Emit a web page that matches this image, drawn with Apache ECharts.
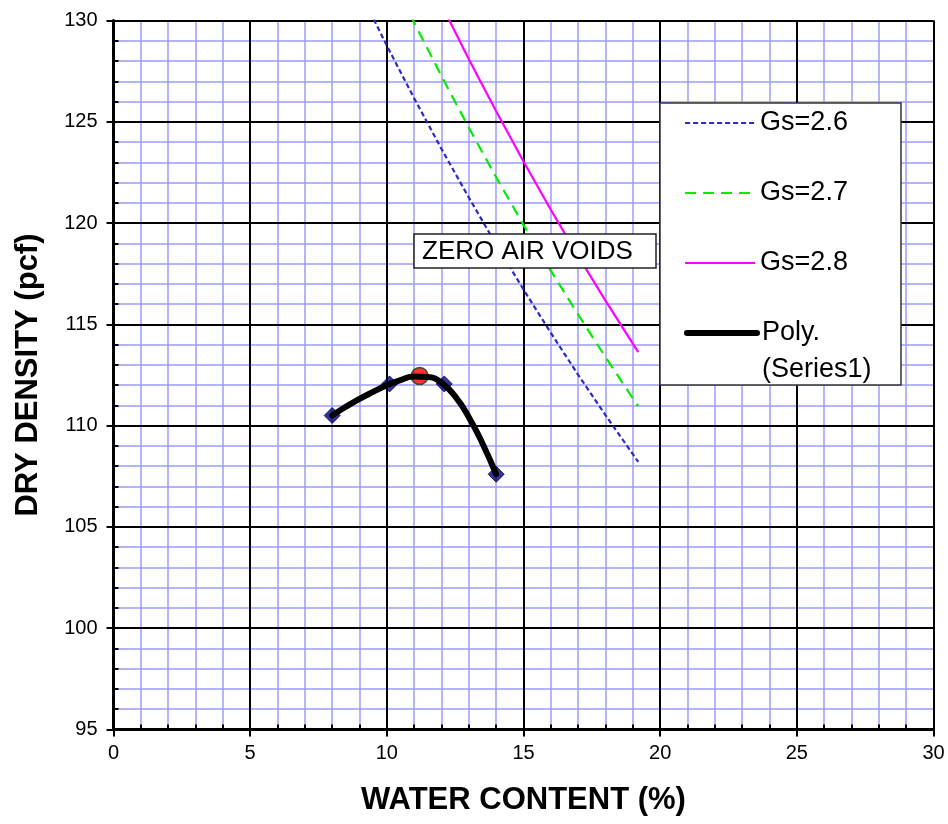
<!DOCTYPE html>
<html>
<head>
<meta charset="utf-8">
<script src="https://cdn.jsdelivr.net/npm/echarts@6/dist/echarts.min.js"></script>
<style>
  html, body { margin: 0; padding: 0; background: #ffffff; }
  #chart { width: 948px; height: 824px; }
</style>
</head>
<body>
<div id="chart"></div>
<script>
// Proctor compaction test results (water content %, dry density pcf)
const testWaterContent = [8.0, 10.1, 12.1, 14.0];
const testDryDensity = [110.5, 112.06, 112.06, 107.6];

// Optimum point on the compaction curve
const optimumWaterContent = [11.2];
const optimumDryDensity = [112.45];

// Polynomial compaction curve
const curveWaterContent = [8, 8.5, 9, 9.5, 10, 10.5, 11, 11.5, 12, 12.5, 13, 13.5, 14];
const curveDryDensity = [110.5, 110.93, 111.32, 111.67, 112.0, 112.25, 112.42, 112.4, 112.12, 111.44, 110.42, 109.12, 107.6];

// Zero air voids lines for three specific gravities
const zavWaterContent26 = [9, 10, 11, 12, 13, 14, 15, 16, 17, 18, 19, 19.2];
const zavDryDensity26 = [131.47, 128.76, 126.16, 123.66, 121.26, 118.94, 116.72, 114.58, 112.51, 110.52, 108.59, 108.21];
const zavWaterContent27 = [10, 11, 12, 13, 14, 15, 16, 17, 18, 19, 19.2];
const zavDryDensity27 = [132.66, 129.90, 127.25, 124.71, 122.26, 119.91, 117.65, 115.48, 113.38, 111.35, 110.96];
const zavWaterContent28 = [12, 13, 14, 15, 16, 17, 18, 19, 19.2];
const zavDryDensity28 = [130.78, 128.09, 125.52, 123.04, 120.66, 118.37, 116.17, 114.05, 113.63];

// Axis ranges (tick labels every 5 units)
const xTicks = [0, 5, 10, 15, 20, 25, 30];
const yTicks = [95, 100, 105, 110, 115, 120, 125, 130];

const zip = (xs, ys) => xs.map((x, i) => [x, ys[i]]);
const FONT = '"Liberation Sans", Arial, sans-serif';

const axisRange = (isX) => ({
  min: isX ? xTicks[0] : yTicks[0],
  max: isX ? xTicks[xTicks.length - 1] : yTicks[yTicks.length - 1]
});

// Labelled axes: heavy black grid every 5 units, outward ticks
const majorAxis = (isX) => Object.assign({
  type: 'value',
  interval: 5,
  axisLine: { show: true, onZero: false, lineStyle: { color: '#000', width: 3 } },
  axisTick: { show: true, inside: false, length: 7, lineStyle: { color: '#000', width: 2 } },
  axisLabel: { show: true, color: '#000', fontSize: 20, fontFamily: FONT, margin: isX ? 14 : 16,
               showMinLabel: true, showMaxLabel: true },
  splitLine: { show: true, lineStyle: { color: '#000', width: 2 } },
  z: 2
}, axisRange(isX));

// Companion axes: light blue grid every unit, small inward ticks
const minorAxis = (isX) => Object.assign({
  type: 'value',
  interval: 1,
  position: isX ? 'bottom' : 'left',
  axisLine: { show: false },
  axisTick: { show: true, inside: true, length: 5, lineStyle: { color: '#000', width: 2 } },
  axisLabel: { show: false },
  splitLine: { show: true, lineStyle: { color: '#9c9cff', width: 1.5 } },
  z: 1
}, axisRange(isX));

const xMain = Object.assign(majorAxis(true), {
  name: 'WATER CONTENT (%)',
  nameLocation: 'middle',
  nameGap: 55,
  nameTextStyle: { color: '#000', fontSize: 31, fontWeight: 'bold', fontFamily: FONT }
});
const yMain = Object.assign(majorAxis(false), {
  name: 'DRY DENSITY (pcf)',
  nameLocation: 'middle',
  nameGap: 70,
  nameTextStyle: { color: '#000', fontSize: 31, fontWeight: 'bold', fontFamily: FONT }
});

const legendBase = {
  orient: 'vertical',
  left: 684,
  padding: 0,
  itemWidth: 70,
  itemHeight: 14,
  itemGap: 0,
  selectedMode: false,
  itemStyle: { opacity: 0 },
  textStyle: { color: '#000', fontSize: 27, fontFamily: FONT, lineHeight: 28 },
  z: 6
};

const option = {
  animation: false,
  backgroundColor: '#ffffff',
  grid: { left: 113.5, right: 14.5, top: 20.5, bottom: 94.5, containLabel: false },
  xAxis: [xMain, minorAxis(true)],
  yAxis: [yMain, minorAxis(false)],
  legend: [
    Object.assign({}, legendBase, { top: 123 - 14, data: ['Gs=2.6'], lineStyle: { width: 2.2 } }),
    Object.assign({}, legendBase, { top: 193 - 14, data: ['Gs=2.7'], lineStyle: { width: 2.2 } }),
    Object.assign({}, legendBase, { top: 263 - 14, data: ['Gs=2.8'], lineStyle: { width: 2.2 } }),
    Object.assign({}, legendBase, {
      top: 333 - 55.5,
      data: ['Poly. (Series1)'],
      lineStyle: { width: 6 },
      // blank first line keeps "Poly." level with the legend line
      textStyle: { color: '#000', fontSize: 27, fontFamily: FONT, lineHeight: 37 },
      formatter: () => ' \nPoly.\n(Series1)'
    })
  ],
  graphic: [
    {
      type: 'rect', z: 5,
      shape: { x: 660, y: 103, width: 241, height: 282 },
      style: { fill: '#ffffff', stroke: '#333', lineWidth: 1.5 }
    },
    {
      type: 'group', z: 5, x: 414, y: 234,
      children: [
        { type: 'rect', z: 5, shape: { x: 0, y: 0, width: 242, height: 34 },
          style: { fill: '#ffffff', stroke: '#222', lineWidth: 1.5 } },
        { type: 'text', z: 6, x: 8, y: 18,
          style: { text: 'ZERO AIR VOIDS', fill: '#000', fontSize: 26, fontFamily: FONT, verticalAlign: 'middle' } }
      ]
    }
  ],
  series: [
    {
      name: 'Gs=2.6', type: 'line', xAxisIndex: 0, yAxisIndex: 0,
      data: zip(zavWaterContent26, zavDryDensity26),
      symbol: 'none', clip: true, z: 2,
      itemStyle: { color: '#2b2bc4' },
      lineStyle: { color: '#2b2bc4', width: 2.2, type: [5, 3] }
    },
    {
      name: 'Gs=2.7', type: 'line', xAxisIndex: 0, yAxisIndex: 0,
      data: zip(zavWaterContent27, zavDryDensity27),
      symbol: 'none', clip: true, z: 2,
      itemStyle: { color: '#00ee00' },
      lineStyle: { color: '#00ee00', width: 2.2, type: [11, 7] }
    },
    {
      name: 'Gs=2.8', type: 'line', xAxisIndex: 0, yAxisIndex: 0,
      data: zip(zavWaterContent28, zavDryDensity28),
      symbol: 'none', clip: true, z: 2,
      itemStyle: { color: '#ff00ff' },
      lineStyle: { color: '#ff00ff', width: 2.2, type: 'solid' }
    },
    {
      name: 'Test points', type: 'scatter', xAxisIndex: 0, yAxisIndex: 0,
      data: zip(testWaterContent, testDryDensity),
      symbol: 'diamond', symbolSize: [16, 16], z: 3,
      itemStyle: { color: '#000080', borderColor: '#000050', borderWidth: 1 }
    },
    {
      name: 'Optimum', type: 'scatter', xAxisIndex: 0, yAxisIndex: 0,
      data: zip(optimumWaterContent, optimumDryDensity),
      symbol: 'circle', symbolSize: 17, z: 3,
      itemStyle: { color: '#ff0000', borderColor: '#0b3d0b', borderWidth: 1.5 }
    },
    {
      name: 'Poly. (Series1)', type: 'line', xAxisIndex: 0, yAxisIndex: 0,
      data: zip(curveWaterContent, curveDryDensity),
      symbol: 'none', smooth: 0.5, z: 4,
      itemStyle: { color: '#000' },
      lineStyle: { color: '#000', width: 6, cap: 'round' }
    }
  ]
};

const chart = echarts.init(document.getElementById('chart'), null, { renderer: 'canvas' });
chart.setOption(option);
</script>
</body>
</html>
